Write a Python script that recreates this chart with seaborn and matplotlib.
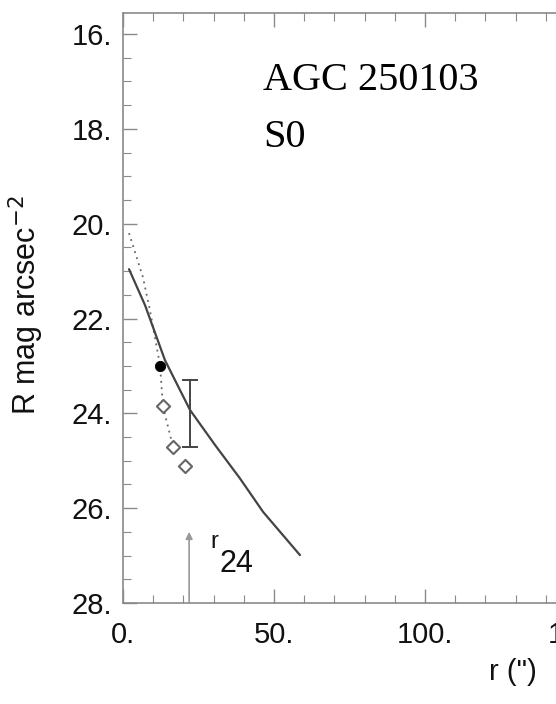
import numpy as np
import pandas as pd
import matplotlib
matplotlib.use("Agg")
import matplotlib.pyplot as plt
import seaborn as sns
from matplotlib.ticker import MultipleLocator, FuncFormatter

# DATA
# surface brightness profile (solid line)
profile_r = [2.0, 7.3, 13.9, 22.2, 30.5, 38.7, 46.4, 58.6]
profile_mag = [20.96, 21.72, 22.88, 23.93, 24.67, 25.37, 26.08, 26.99]

# dotted profile leading to the measured points
dotted_r = [2.0, 6.6, 8.9, 12.3, 13.2, 16.6]
dotted_mag = [20.2, 21.13, 21.82, 23.0, 23.85, 24.71]

# filled point and open diamonds
dot_r = [12.3]
dot_mag = [23.0]
diamond_r = [13.2, 16.6, 20.5]
diamond_mag = [23.85, 24.71, 25.11]

# error bar
err_r = 22.2
err_mag = 24.0
err_size = 0.7

# r24 marker
r24 = 21.9
r24_tip = 26.5

galaxy_name = "AGC 250103"
galaxy_type = "S0"

# STYLE
sns.set_style("ticks")
plt.rcParams["font.family"] = ["Liberation Sans", "DejaVu Sans"]
axis_gray = "#8a8a8a"
ink = "#111111"

fig = plt.figure(figsize=(5.56, 7.04), dpi=100)
ax = fig.add_axes([123 / 556, 101 / 704, 604 / 556, 590 / 704])

prof = pd.DataFrame({"r": profile_r, "mag": profile_mag})
dots = pd.DataFrame({"r": dotted_r, "mag": dotted_mag})

sns.lineplot(data=dots, x="r", y="mag", sort=False, ax=ax, color="#666666",
             linestyle=(0, (1, 2.5)), linewidth=1.3)
sns.lineplot(data=prof, x="r", y="mag", sort=False, ax=ax, color="#444444",
             linewidth=1.6)
sns.scatterplot(x=dot_r, y=dot_mag, ax=ax, color="black", s=55, marker="o",
                edgecolor="black", zorder=5)
sns.scatterplot(x=diamond_r, y=diamond_mag, ax=ax, marker="D", s=45,
                facecolor="white", edgecolor="#666666", linewidth=1.5, zorder=5)

ax.errorbar(err_r, err_mag, yerr=err_size, fmt="none", ecolor="#444444",
            elinewidth=1.4, capsize=6, capthick=1.4)

ax.annotate("", xy=(r24, r24_tip), xytext=(r24, 28.0),
            arrowprops=dict(arrowstyle="-|>", color="#999999", lw=1.2,
                            mutation_scale=10, shrinkA=0, shrinkB=0))
ax.text(28.8, 26.84, "r", fontsize=17, color=ink, va="baseline")
ax.text(32.1, 27.35, "24", fontsize=22, color=ink, va="baseline")

ax.set_xlim(0, 200)
ax.set_ylim(28, 16 - 21 / 47.4)

ax.xaxis.set_major_locator(MultipleLocator(50))
ax.xaxis.set_minor_locator(MultipleLocator(10))
ax.yaxis.set_major_locator(MultipleLocator(2))
ax.yaxis.set_minor_locator(MultipleLocator(0.5))
ax.xaxis.set_major_formatter(FuncFormatter(lambda v, p: f"{v:.0f}."))
ax.yaxis.set_major_formatter(FuncFormatter(lambda v, p: f"{v:.0f}."))

ax.tick_params(which="both", direction="in", top=True, right=True,
               color=axis_gray, labelsize=21, labelcolor=ink)
ax.tick_params(which="major", length=10, width=1)
ax.tick_params(which="minor", length=6, width=0.8)
ax.tick_params(axis="x", pad=13)
ax.tick_params(axis="y", pad=8)

for s in ax.spines.values():
    s.set_color(axis_gray)
    s.set_linewidth(1.2)

ax.set_xlabel('r (")', fontsize=21, color=ink)
ax.xaxis.set_label_coords((513 - 123) / 604, -(658 - 603) / 590)
ax.set_ylabel(r"R mag arcsec$^{-2}$", fontsize=22, color=ink)
ax.yaxis.set_label_coords(-(123 - 46) / 604, (603 - 305) / 590)

ax.text((263 - 123) / 604, (603 - 90) / 590, galaxy_name, transform=ax.transAxes,
        fontsize=29, family="Liberation Serif", va="baseline", ha="left", color="black")
ax.text((263 - 123) / 604, (603 - 147) / 590, galaxy_type, transform=ax.transAxes,
        fontsize=29, family="Liberation Serif", va="baseline", ha="left", color="black")

fig.savefig("out.png", dpi=100)
